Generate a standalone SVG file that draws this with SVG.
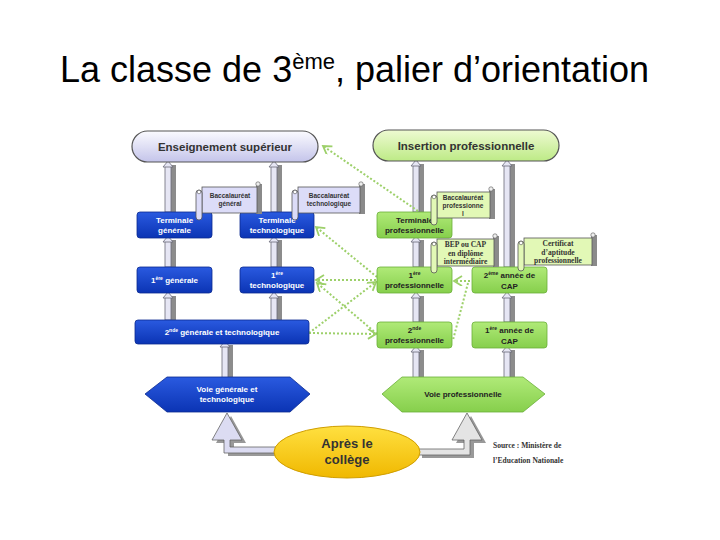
<svg xmlns="http://www.w3.org/2000/svg" width="720" height="540" viewBox="0 0 720 540">
<defs>
<linearGradient id="gBlue" x1="0" y1="0" x2="0" y2="1"><stop offset="0" stop-color="#2a5ae0"/><stop offset="1" stop-color="#0b34b4"/></linearGradient>
<linearGradient id="gGreen" x1="0" y1="0" x2="0" y2="1"><stop offset="0" stop-color="#b0ea78"/><stop offset="1" stop-color="#86cf4c"/></linearGradient>
<linearGradient id="gLav" x1="0" y1="0" x2="0" y2="1"><stop offset="0" stop-color="#fbfbff"/><stop offset="1" stop-color="#c4c4ea"/></linearGradient>
<linearGradient id="gLime" x1="0" y1="0" x2="0" y2="1"><stop offset="0" stop-color="#eefad2"/><stop offset="1" stop-color="#bdea86"/></linearGradient>
<linearGradient id="gYellow" x1="0" y1="0" x2="0" y2="1"><stop offset="0" stop-color="#ffe040"/><stop offset="1" stop-color="#f0b800"/></linearGradient>
<marker id="chev" markerUnits="userSpaceOnUse" markerWidth="12" markerHeight="12" refX="9" refY="5" orient="auto">
<path d="M1,0 L9,5 L1,10" fill="none" stroke="#9dd06a" stroke-width="1.8"/>
</marker>
<style>
.title{font-family:"Liberation Sans",Arial,sans-serif;font-size:36px;fill:#000}
.pill{stroke:#555;stroke-width:1.2}
.ptxt{font-family:"Liberation Sans",Arial,sans-serif;font-weight:bold;font-size:11.5px;fill:#333;text-anchor:middle}
.bbox{fill:url(#gBlue);stroke:#0a2a90;stroke-width:0.8}
.gbox{fill:url(#gGreen);stroke:#6aae38;stroke-width:0.8}
.wt{font-family:"Liberation Sans",Arial,sans-serif;font-weight:bold;font-size:8px;fill:#fff;text-anchor:middle}
.dt{font-family:"Liberation Sans",Arial,sans-serif;font-weight:bold;font-size:8px;fill:#222;text-anchor:middle}
.sup{font-size:5px}
.lavs{fill:#dcdcf8;stroke:#555;stroke-width:0.8}
.lims{fill:#e2f8b6;stroke:#555;stroke-width:0.8}
.sshadow{fill:#8a8a8a}
.st{font-family:"Liberation Sans",Arial,sans-serif;font-weight:bold;font-size:6.5px;fill:#333;text-anchor:middle}
.sts{font-family:"Liberation Serif","Times New Roman",serif;font-weight:bold;font-size:7.5px;fill:#333;text-anchor:middle}
.cl{fill:#e6e6f4;stroke:#6a6a78;stroke-width:0.8}
.cs{fill:#8c8c8c}
.dot{fill:none;stroke:#9dd06a;stroke-width:2;stroke-dasharray:2 2}
.src{font-family:"Liberation Serif","Times New Roman",serif;font-weight:bold;font-size:7.5px;fill:#333}
</style>
</defs>
<rect width="720" height="540" fill="#fff"/>
<text class="title" x="60" y="82">La classe de 3<tspan font-size="22" dy="-13">ème</tspan><tspan dy="13">, palier d’orientation</tspan></text>

<g id="connectors">
<!-- vertical hollow arrows -->
<g id="v1"><rect class="cs" x="171" y="165" width="5" height="47"/><rect class="cl" x="165" y="166" width="6" height="46"/><polygon class="cl" points="168,161 173,167 163,167"/></g>
<g id="v2"><rect class="cs" x="277" y="165" width="5" height="47"/><rect class="cl" x="271" y="166" width="6" height="46"/><polygon class="cl" points="274,161 279,167 269,167"/></g>
<g id="v3"><rect class="cs" x="171" y="240" width="5" height="27"/><rect class="cl" x="165" y="241" width="6" height="26"/><polygon class="cl" points="168,236 173,242 163,242"/></g>
<g id="v4"><rect class="cs" x="277" y="240" width="5" height="27"/><rect class="cl" x="271" y="241" width="6" height="26"/><polygon class="cl" points="274,236 279,242 269,242"/></g>
<g id="v5"><rect class="cs" x="171" y="296" width="5" height="24"/><rect class="cl" x="165" y="297" width="6" height="23"/><polygon class="cl" points="168,292 173,298 163,298"/></g>
<g id="v6"><rect class="cs" x="277" y="296" width="5" height="24"/><rect class="cl" x="271" y="297" width="6" height="23"/><polygon class="cl" points="274,292 279,298 269,298"/></g>
<g id="v7"><rect class="cs" x="228" y="345" width="5" height="33"/><rect class="cl" x="222" y="346" width="6" height="32"/><polygon class="cl" points="225,341 230,347 220,347"/></g>
<g id="v8"><rect class="cs" x="419" y="164" width="5" height="48"/><rect class="cl" x="413" y="165" width="6" height="47"/><polygon class="cl" points="416,160 421,166 411,166"/></g>
<g id="v9"><rect class="cs" x="419" y="240" width="5" height="27"/><rect class="cl" x="413" y="241" width="6" height="26"/><polygon class="cl" points="416,236 421,242 411,242"/></g>
<g id="v10"><rect class="cs" x="419" y="296" width="5" height="26"/><rect class="cl" x="413" y="297" width="6" height="25"/><polygon class="cl" points="416,292 421,298 411,298"/></g>
<g id="v11"><rect class="cs" x="419" y="350" width="5" height="28"/><rect class="cl" x="413" y="351" width="6" height="27"/><polygon class="cl" points="416,346 421,352 411,352"/></g>
<g id="v12"><rect class="cs" x="510" y="164" width="5" height="103"/><rect class="cl" x="504" y="165" width="6" height="102"/><polygon class="cl" points="507,160 512,166 502,166"/></g>
<g id="v13"><rect class="cs" x="510" y="296" width="5" height="26"/><rect class="cl" x="504" y="297" width="6" height="25"/><polygon class="cl" points="507,292 512,298 502,298"/></g>
<g id="v14"><rect class="cs" x="510" y="350" width="5" height="28"/><rect class="cl" x="504" y="351" width="6" height="27"/><polygon class="cl" points="507,346 512,352 502,352"/></g>

<!-- green dotted passerelles -->
<path class="dot" d="M418,211 L323,146" marker-end="url(#chev)"/>
<path class="dot" d="M377,277 L316,227" marker-end="url(#chev)"/>
<path class="dot" d="M376,280 L316,280" marker-end="url(#chev)"/>
<path class="dot" d="M377,334 L317,283" marker-end="url(#chev)"/>
<path class="dot" d="M309,333 L376,282" marker-end="url(#chev)"/>
<path class="dot" d="M309,333 L376,334" marker-end="url(#chev)"/>
<path class="dot" d="M470,281 L454,281" marker-end="url(#chev)"/>
<path class="dot" d="M468,283 L453,340"/>

<!-- block arrows from college -->
<polygon points="231,416 246,443 234,443 234,450 280,450 280,456 228,456 228,443 216,443" fill="#999"/>
<polygon points="227,413 242,440 230,440 230,447 276,447 276,453 224,453 224,440 212,440" fill="#dcdcf2" stroke="#666" stroke-width="0.8"/>
<polygon points="471,416 486,443 474,443 474,458 422,458 422,452 468,452 468,443 456,443" fill="#999"/>
<polygon points="467,413 482,440 470,440 470,455 418,455 418,449 464,449 464,440 452,440" fill="#e4e4e4" stroke="#666" stroke-width="0.8"/>
</g>

<g id="ens-sup"><rect class="pill" x="132" y="131" width="186" height="31" rx="15.5" fill="url(#gLav)"/><text class="ptxt" x="225" y="151">Enseignement supérieur</text></g>
<g id="insertion"><rect class="pill" x="373" y="130" width="186" height="31" rx="15.5" fill="url(#gLime)"/><text class="ptxt" x="466" y="150">Insertion professionnelle</text></g>

<g id="term-gen"><rect class="bbox" x="137" y="212" width="75" height="26" rx="3"/><text class="wt" x="174.5" y="222.5">Terminale</text><text class="wt" x="174.5" y="232.5">générale</text></g>
<g id="term-tech"><rect class="bbox" x="240" y="212" width="74" height="26" rx="3"/><text class="wt" x="277" y="222.5">Terminale</text><text class="wt" x="277" y="232.5">technologique</text></g>
<g id="prem-gen"><rect class="bbox" x="137" y="267" width="75" height="26" rx="3"/><text class="wt" x="174.5" y="283">1<tspan class="sup" dy="-3">ère</tspan><tspan dy="3"> générale</tspan></text></g>
<g id="prem-tech"><rect class="bbox" x="240" y="267" width="74" height="26" rx="3"/><text class="wt" x="277" y="277.5">1<tspan class="sup" dy="-3">ère</tspan></text><text class="wt" x="277" y="288">technologique</text></g>
<g id="seconde-gt"><rect class="bbox" x="135" y="320" width="174" height="24" rx="3"/><text class="wt" x="222" y="335">2<tspan class="sup" dy="-3">nde</tspan><tspan dy="3"> générale et technologique</tspan></text></g>

<g id="term-pro"><rect class="gbox" x="377" y="212" width="75" height="26" rx="3"/><text class="dt" x="414.5" y="222.5">Terminale</text><text class="dt" x="414.5" y="232.5">professionnelle</text></g>
<g id="prem-pro"><rect class="gbox" x="377" y="267" width="75" height="26" rx="3"/><text class="dt" x="414.5" y="277.5">1<tspan class="sup" dy="-3">ère</tspan></text><text class="dt" x="414.5" y="288">professionnelle</text></g>
<g id="cap2"><rect class="gbox" x="472" y="267" width="75" height="26" rx="3"/><text class="dt" x="509.5" y="278">2<tspan class="sup" dy="-3">ème</tspan><tspan dy="3"> année de</tspan></text><text class="dt" x="509.5" y="288.5">CAP</text></g>
<g id="seconde-pro"><rect class="gbox" x="377" y="322" width="75" height="26" rx="3"/><text class="dt" x="414.5" y="332.5">2<tspan class="sup" dy="-3">nde</tspan></text><text class="dt" x="414.5" y="343">professionnelle</text></g>
<g id="cap1"><rect class="gbox" x="472" y="322" width="75" height="26" rx="3"/><text class="dt" x="509.5" y="333">1<tspan class="sup" dy="-3">ère</tspan><tspan dy="3"> année de</tspan></text><text class="dt" x="509.5" y="343.5">CAP</text></g>

<g id="voie-gt"><polygon points="145,394 167,377 290,377 310,394 290,412 167,412" fill="url(#gBlue)" stroke="#0a2a90" stroke-width="0.8"/><text class="wt" x="227" y="392">Voie générale et</text><text class="wt" x="227" y="402">technologique</text></g>
<g id="voie-pro"><polygon points="382,394 402,377 523,377 545,394 523,412 402,412" fill="url(#gGreen)" stroke="#6aae38" stroke-width="0.8"/><text class="dt" x="463" y="397">Voie professionnelle</text></g>

<g id="college"><ellipse cx="347" cy="452" rx="73" ry="26" fill="url(#gYellow)" stroke="#d09e00" stroke-width="1"/><text class="ptxt" font-size="13" x="347" y="448" style="font-size:13px">Après le</text><text class="ptxt" x="347" y="464" style="font-size:13px">collège</text></g>

<g id="bac-gen"><rect class="sshadow" x="256" y="184" width="6" height="30"/><circle cx="258" cy="184" r="2.2" fill="#eee" stroke="#555" stroke-width="0.6"/><rect class="lavs" x="202" y="187" width="55" height="26"/><rect class="lavs" x="196" y="190" width="6" height="30" rx="3"/><circle cx="199" cy="192" r="1.8" fill="#fff" stroke="#555" stroke-width="0.6"/><text class="st" x="230" y="198">Baccalauréat</text><text class="st" x="230" y="206">général</text></g>
<g id="bac-tech"><rect class="sshadow" x="359" y="184" width="6" height="30"/><circle cx="361" cy="184" r="2.2" fill="#eee" stroke="#555" stroke-width="0.6"/><rect class="lavs" x="298" y="187" width="62" height="26"/><rect class="lavs" x="292" y="190" width="6" height="30" rx="3"/><circle cx="295" cy="192" r="1.8" fill="#fff" stroke="#555" stroke-width="0.6"/><text class="st" x="329" y="198">Baccalauréat</text><text class="st" x="329" y="206">technologique</text></g>
<g id="bac-pro"><rect class="sshadow" x="489" y="189" width="6" height="30"/><circle cx="491" cy="189" r="2.2" fill="#eee" stroke="#555" stroke-width="0.6"/><rect class="lims" x="437" y="192" width="53" height="26"/><rect class="lims" x="431" y="195" width="6" height="30" rx="3"/><circle cx="434" cy="197" r="1.8" fill="#fff" stroke="#555" stroke-width="0.6"/><text class="st" x="463" y="200">Baccalauréat</text><text class="st" x="463" y="208">professionne</text><text class="st" x="463" y="216">l</text></g>
<g id="bep"><rect class="sshadow" x="493" y="236" width="6" height="31"/><circle cx="495" cy="236" r="2.2" fill="#eee" stroke="#555" stroke-width="0.6"/><rect class="lims" x="437" y="239" width="57" height="27"/><rect class="lims" x="431" y="242" width="6" height="31" rx="3"/><circle cx="434" cy="244" r="1.8" fill="#fff" stroke="#555" stroke-width="0.6"/><text class="sts" x="465.5" y="247">BEP ou CAP</text><text class="sts" x="465.5" y="255.5">en diplôme</text><text class="sts" x="465.5" y="264">intermédiaire</text></g>
<g id="certif"><rect class="sshadow" x="591" y="235" width="6" height="31"/><circle cx="593" cy="235" r="2.2" fill="#eee" stroke="#555" stroke-width="0.6"/><rect class="lims" x="524" y="238" width="68" height="27"/><rect class="lims" x="518" y="241" width="6" height="30" rx="3"/><circle cx="521" cy="243" r="1.8" fill="#fff" stroke="#555" stroke-width="0.6"/><text class="sts" x="558" y="246">Certificat</text><text class="sts" x="558" y="254.5">d’aptitude</text><text class="sts" x="558" y="263">professionnelle</text></g>

<g id="source"><text class="src" x="493" y="448">Source : Ministère de</text><text class="src" x="493" y="463">l’Education Nationale</text></g>
</svg>
